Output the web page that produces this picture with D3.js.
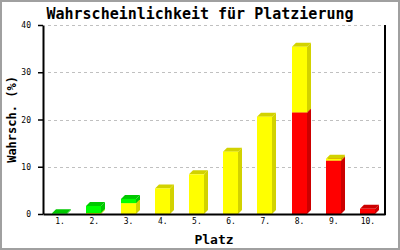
<!DOCTYPE html>
<html>
<head>
<meta charset="utf-8">
<script src="https://cdn.jsdelivr.net/npm/d3@7"></script>
<style>
  body { margin: 0; background: #fff; }
  svg { display: block; }
  text { font-family: "DejaVu Sans Mono", monospace; }
</style>
</head>
<body>
<svg id="chart" width="400" height="250"></svg>
<script>
// Platz 1. - 10., Anteile je Farbe in %
var categories = ["1.", "2.", "3.", "4.", "5.", "6.", "7.", "8.", "9.", "10."];
var red    = [0, 0, 0, 0, 0, 0, 0, 21.5, 11.3, 1.1];
var yellow = [0, 0.2, 2.3, 5.4, 8.4, 13.2, 20.6, 13.9, 0.4, 0];
var green  = [0.15, 1.5, 0.9, 0, 0, 0, 0, 0, 0, 0];
var yTicks = [0, 10, 20, 30, 40];

var colors = {
  red:    { front: "#ff0000", dark: "#cc0000" },
  yellow: { front: "#ffff00", dark: "#d2d200" },
  green:  { front: "#00ff00", dark: "#00c800" }
};

var rows = categories.map(function(c, i) {
  return { cat: c, red: red[i], yellow: yellow[i], green: green[i] };
});

var svg = d3.select("#chart");

// plot area (window.top is reserved, so own names)
var pLeft = 43, pRight = 385, pTop = 25, pBottom = 214;

var x = d3.scaleBand().domain(categories).range([pLeft, pRight]);
var y = d3.scaleLinear().domain([0, 40]).range([pBottom, pTop]);

// outer frame
svg.append("rect")
  .attr("x", 1).attr("y", 1)
  .attr("width", 398).attr("height", 248)
  .attr("fill", "none")
  .attr("stroke", "#a0a0a0")
  .attr("stroke-width", 2);

// grid
svg.append("g").selectAll("line")
  .data(yTicks.slice(1))
  .enter().append("line")
    .attr("x1", pLeft + 5).attr("x2", pRight)
    .attr("y1", function(d) { return Math.round(y(d)) + 0.5; })
    .attr("y2", function(d) { return Math.round(y(d)) + 0.5; })
    .attr("stroke", "#c0c0c0")
    .attr("stroke-dasharray", "3,3");

// bars (pseudo 3D)
var stack = d3.stack().keys(["red", "yellow", "green"]);
var series = stack(rows);
var w = 15, depth = 4;

var bars = svg.append("g");
series.forEach(function(s) {
  var col = colors[s.key];
  s.forEach(function(d) {
    if (d[1] - d[0] <= 0) return;
    var x0 = Math.round(x(d.data.cat) + x.bandwidth() / 2 - 8);
    var yt = y(d[1]), yb = y(d[0]);
    // side
    bars.append("polygon")
      .attr("points", [[x0 + w, yt], [x0 + w + depth, yt - depth],
                       [x0 + w + depth, yb - depth], [x0 + w, yb]].join(" "))
      .attr("fill", col.dark);
    // top
    bars.append("polygon")
      .attr("points", [[x0, yt], [x0 + depth, yt - depth],
                       [x0 + w + depth, yt - depth], [x0 + w, yt]].join(" "))
      .attr("fill", col.dark);
    // front
    bars.append("rect")
      .attr("x", x0).attr("y", yt)
      .attr("width", w).attr("height", yb - yt)
      .attr("fill", col.front);
  });
});

// axes
var yAxis = d3.axisLeft(y).tickValues(yTicks).tickSize(5).tickSizeOuter(0).tickPadding(7);
var gy = svg.append("g").attr("transform", "translate(" + pLeft + ",0)").call(yAxis);

var xAxis = d3.axisBottom(x).tickSize(0).tickSizeOuter(0).tickPadding(4);
var gx = svg.append("g").attr("transform", "translate(0," + pBottom + ")").call(xAxis);

[gy, gx].forEach(function(g) {
  g.select(".domain").attr("stroke", "#000").attr("stroke-width", 2);
  g.selectAll(".tick line").attr("stroke", "#000").attr("stroke-width", 1.5);
  g.selectAll(".tick text")
    .attr("fill", "#000")
    .style("font-family", "'DejaVu Sans Mono', monospace")
    .style("font-size", "8px");
});

// right frame line
svg.append("line")
  .attr("x1", pRight).attr("x2", pRight)
  .attr("y1", pTop).attr("y2", pBottom + 1)
  .attr("stroke", "#000").attr("stroke-width", 2);

// titles
svg.append("text")
  .attr("x", 200).attr("y", 19)
  .attr("text-anchor", "middle")
  .style("font-size", "15px").style("font-weight", "bold")
  .text("Wahrscheinlichkeit für Platzierung");

svg.append("text")
  .attr("x", (pLeft + pRight) / 2).attr("y", 244)
  .attr("text-anchor", "middle")
  .style("font-size", "13px").style("font-weight", "bold")
  .text("Platz");

svg.append("text")
  .attr("transform", "translate(16," + ((pTop + pBottom) / 2) + ") rotate(-90)")
  .attr("text-anchor", "middle")
  .style("font-size", "12px").style("font-weight", "bold")
  .text("Wahrsch. (%)");
</script>
</body>
</html>
